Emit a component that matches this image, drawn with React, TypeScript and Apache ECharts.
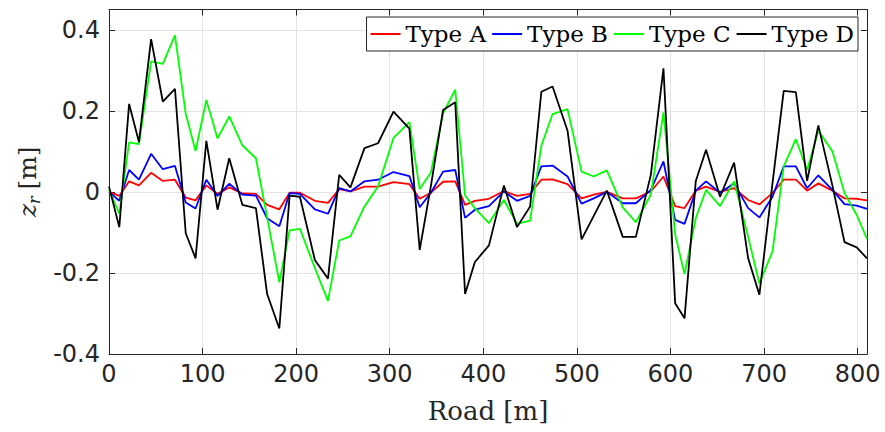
import React, { useEffect, useRef } from "react";
import * as echarts from "echarts";

const roadPositions = [
  0, 11, 21.5, 32, 45, 57.5, 70.5, 82, 92.5, 104, 116, 128.5, 142.5, 157, 169, 182, 193, 204,
  220, 234, 246, 258, 273, 287.5, 304, 321, 332, 344, 357, 370, 380.5, 391, 406, 422, 436, 450,
  462, 474, 490, 505, 518, 532, 549, 563, 579, 592.5, 605, 615, 627, 638, 653, 668, 683, 695,
  709, 721, 734, 746, 758, 773, 786, 799, 810,
];

const typeA = [
  0, -0.01, 0.026, 0.016, 0.047, 0.027, 0.03, -0.014, -0.021, 0.016, -0.005, 0.011, -0.004, -0.005,
  -0.032, -0.043, -0.002, -0.002, -0.022, -0.027, 0.007, 0.001, 0.013, 0.013, 0.024, 0.019, -0.017,
  -0.002, 0.025, 0.026, -0.032, -0.022, -0.017, 0.002, -0.01, -0.005, 0.03, 0.031, 0.019, -0.016,
  -0.007, 0, -0.016, -0.016, 0.001, 0.038, -0.035, -0.04, 0.003, 0.013, 0, 0.009, -0.02, -0.031,
  -0.003, 0.03, 0.03, 0.003, 0.021, 0.003, -0.016, -0.017, -0.021,
];

const typeB = [
  0, -0.022, 0.054, 0.03, 0.094, 0.056, 0.064, -0.026, -0.041, 0.03, -0.01, 0.02, -0.007, -0.009,
  -0.065, -0.085, -0.003, -0.005, -0.043, -0.054, 0.009, 0.001, 0.026, 0.03, 0.049, 0.039, -0.038,
  -0.002, 0.05, 0.054, -0.064, -0.044, -0.035, 0.001, -0.022, -0.01, 0.063, 0.065, 0.038, -0.029,
  -0.016, 0, -0.028, -0.028, 0.005, 0.075, -0.069, -0.079, 0.003, 0.026, -0.002, 0.021, -0.04,
  -0.063, -0.012, 0.063, 0.063, 0.009, 0.041, 0.005, -0.03, -0.034, -0.042,
];

const typeC = [
  0.005, -0.053, 0.122, 0.118, 0.322, 0.316, 0.386, 0.193, 0.101, 0.227, 0.132, 0.186, 0.115, 0.083,
  -0.063, -0.223, -0.095, -0.091, -0.188, -0.269, -0.12, -0.11, -0.036, 0.013, 0.133, 0.172, 0.007,
  0.048, 0.194, 0.252, -0.009, -0.04, -0.077, -0.02, -0.079, -0.071, 0.114, 0.192, 0.204, 0.05,
  0.038, 0.053, -0.038, -0.075, -0.007, 0.196, -0.105, -0.203, -0.065, 0.005, -0.035, 0.026, -0.111,
  -0.226, -0.147, 0.063, 0.13, 0.054, 0.151, 0.1, -0.003, -0.057, -0.116,
];

const typeD = [
  0.013, -0.087, 0.217, 0.123, 0.377, 0.223, 0.254, -0.102, -0.164, 0.126, -0.044, 0.083, -0.032,
  -0.04, -0.252, -0.337, -0.009, -0.012, -0.168, -0.214, 0.042, 0.011, 0.108, 0.12, 0.198, 0.156,
  -0.143, 0.015, 0.202, 0.221, -0.252, -0.173, -0.132, 0.016, -0.087, -0.036, 0.247, 0.26, 0.151,
  -0.117, -0.059, 0.003, -0.111, -0.111, 0.042, 0.305, -0.275, -0.312, 0.026, 0.104, -0.012, 0.072,
  -0.164, -0.254, 0.021, 0.249, 0.246, 0.027, 0.164, 0.016, -0.124, -0.137, -0.164,
];

const seriesNames = ["Type A", "Type B", "Type C", "Type D"];
const seriesColors = ["#ff0000", "#0000ff", "#00ff00", "#000000"];
const seriesValues = [typeA, typeB, typeC, typeD];

const xTicks = { min: 0, max: 810, interval: 100 };
const yTicks = { min: -0.4, max: 0.45, interval: 0.2 };

const AXIS_COLOR = "#262626";
const GRID_COLOR = "#e3e3e3";

export default function App() {
  const ref = useRef<HTMLDivElement>(null);

  useEffect(() => {
    if (!ref.current) return;
    const chart = echarts.init(ref.current, undefined, { renderer: "svg" });

    const axisLine = { show: true, onZero: false, lineStyle: { color: AXIS_COLOR, width: 1 } };
    const axisTick = { show: true, inside: true, length: 6, lineStyle: { color: AXIS_COLOR } };

    chart.setOption({
      animation: false,
      backgroundColor: "#ffffff",
      grid: { left: 109, right: 18, top: 9.5, bottom: 78, containLabel: false },
      legend: {
        data: seriesNames,
        right: 27,
        top: 17,
        icon: "rect",
        itemWidth: 30,
        itemHeight: 2,
        itemGap: 6,
        padding: [4, 4],
        backgroundColor: "#ffffff",
        borderColor: AXIS_COLOR,
        borderWidth: 1,
        borderRadius: 0,
        textStyle: {
          fontFamily: "DejaVu Serif",
          fontSize: 23,
          color: "#000000",
          lineHeight: 26,
        },
      },
      xAxis: [
        {
          type: "value",
          position: "bottom",
          min: xTicks.min,
          max: xTicks.max,
          interval: xTicks.interval,
          axisLine,
          axisTick,
          axisLabel: {
            fontFamily: "DejaVu Sans",
            fontSize: 24,
            color: AXIS_COLOR,
            margin: 8,
            showMaxLabel: false,
          },
          splitLine: { show: true, lineStyle: { color: GRID_COLOR, width: 1 } },
          name: "Road [m]",
          nameLocation: "middle",
          nameGap: 44,
          nameTextStyle: { fontFamily: "DejaVu Serif", fontSize: 26, color: AXIS_COLOR },
        },
        {
          type: "value",
          position: "top",
          min: xTicks.min,
          max: xTicks.max,
          interval: xTicks.interval,
          axisLine,
          axisTick,
          axisLabel: { show: false },
          splitLine: { show: false },
        },
      ],
      yAxis: [
        {
          type: "value",
          position: "left",
          min: yTicks.min,
          max: yTicks.max,
          interval: yTicks.interval,
          axisLine,
          axisTick,
          axisLabel: {
            fontFamily: "DejaVu Sans",
            fontSize: 24,
            color: AXIS_COLOR,
            margin: 9,
            showMaxLabel: false,
          },
          splitLine: { show: true, lineStyle: { color: GRID_COLOR, width: 1 } },
          name: "{i|z}{s|r}  {n|[m]}",
          nameLocation: "middle",
          nameRotate: 90,
          nameGap: 64,
          nameTextStyle: {
            color: AXIS_COLOR,
            rich: {
              i: {
                fontFamily: "DejaVu Serif",
                fontStyle: "italic",
                fontSize: 25,
                lineHeight: 30,
                verticalAlign: "middle",
                color: AXIS_COLOR,
              },
              s: {
                fontFamily: "DejaVu Serif",
                fontStyle: "italic",
                fontSize: 16,
                lineHeight: 16,
                verticalAlign: "bottom",
                color: AXIS_COLOR,
              },
              n: {
                fontFamily: "DejaVu Serif",
                fontSize: 25,
                lineHeight: 30,
                verticalAlign: "middle",
                color: AXIS_COLOR,
              },
            },
          },
        },
        {
          type: "value",
          position: "right",
          min: yTicks.min,
          max: yTicks.max,
          interval: yTicks.interval,
          axisLine,
          axisTick,
          axisLabel: { show: false },
          splitLine: { show: false },
        },
      ],
      series: seriesNames.map((name, k) => ({
        name,
        type: "line",
        xAxisIndex: 0,
        yAxisIndex: 0,
        symbol: "none",
        showSymbol: false,
        color: seriesColors[k],
        lineStyle: { color: seriesColors[k], width: 1.8 },
        data: roadPositions.map((x, i) => [x, seriesValues[k][i]]),
        z: 2 + k,
      })),
    });

    return () => chart.dispose();
  }, []);

  return (
    <div
      ref={ref}
      style={{ position: "fixed", left: 0, top: 0, width: 885, height: 432, background: "#fff" }}
    />
  );
}
